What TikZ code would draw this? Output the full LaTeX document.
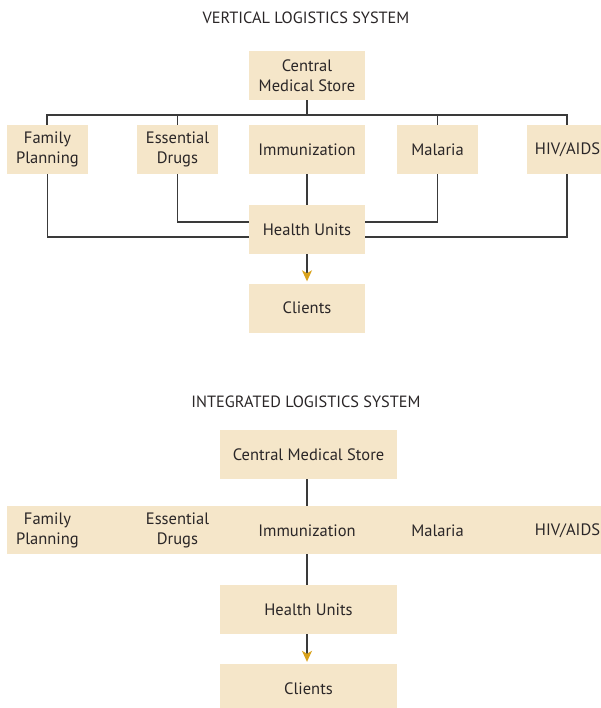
\documentclass[tikz,border=0pt]{standalone}
\usepackage{fontspec}
\setmainfont{PT Sans}
\usetikzlibrary{arrows.meta}
\definecolor{boxfill}{HTML}{F5E6C9}
\definecolor{txt}{HTML}{2A2627}
\definecolor{gold}{HTML}{D9A21B}
\definecolor{wire}{HTML}{3A3A3A}
\begin{document}
\begin{tikzpicture}[x=1pt,y=-1pt,
  box/.style={fill=boxfill,inner sep=0pt,minimum height=49pt,text=txt,align=center,
    font=\fontsize{16.5}{20}\selectfont},
  lbl/.style={inner sep=0pt,text=txt,align=center,font=\fontsize{16.5}{20}\selectfont},
  title/.style={inner sep=0pt,text=txt,font=\fontsize{16.3}{18}\selectfont},
  wireline/.style={draw=wire,line width=1.2pt},
  arr/.style={wireline,-{Stealth[length=11pt,width=10pt,inset=3pt,color=gold]},shorten >=2pt}]
\clip (0,0) rectangle (601,708);
\fill[white] (0,0) rectangle (601,708);
% ---------- vertical system ----------
\node[title] (t1) at (306,18) {VERTICAL LOGISTICS SYSTEM};
\node[box,minimum width=116pt] (cms) at (307,75.5) {Central\\Medical Store};
\node[box,minimum width=81pt] (fp) at (47.5,149.5) {Family\\Planning};
\node[box,minimum width=81pt] (ed) at (177.5,149.5) {Essential\\Drugs};
\node[box,minimum width=116pt] (im) at (307,149.5) {Immunization};
\node[box,minimum width=81pt] (ma) at (437.5,149.5) {Malaria};
\node[box,minimum width=81pt] (hiv) at (567.5,149.5) {HIV/AIDS};
\node[box,minimum width=116pt] (hu) at (307,229.5) {Health Units};
\node[box,minimum width=116pt] (cl) at (307,308) {Clients};
\coordinate (busL) at (47,115);
\coordinate (busR) at (567,115);
\draw[wireline] (fp.north -| busL) -- (busL) -- (busR) -- (hiv.north -| busR);
\draw[wireline] (cms.south) -- (cms.south |- busL);
\draw[wireline] (ed.north) -- (ed.north |- busL);
\draw[wireline] (ma.north) -- (ma.north |- busL);
\draw[wireline] (im.south) -- (hu.north);
\draw[wireline] (ed.south) |- ([yshift=7.5pt]hu.west);
\draw[wireline] (ma.south) |- ([yshift=7.5pt]hu.east);
\draw[wireline] (fp.south) |- ([yshift=-7.5pt]hu.west);
\draw[wireline] (hiv.south -| busR) |- ([yshift=-7.5pt]hu.east);
\draw[arr] (hu.south) -- (cl.north);
% ---------- integrated system ----------
\node[title] (t2) at (306,402) {INTEGRATED LOGISTICS SYSTEM};
\node[box,minimum width=177pt] (cms2) at (308.5,454.5) {Central Medical Store};
\node[box,minimum width=601pt,minimum height=48pt] (band) at (307.5,530) {};
\node[lbl] (fp2) at (47.5,530.5) {Family\\Planning};
\node[lbl] (ed2) at (177.5,530.5) {Essential\\Drugs};
\node[lbl] (im2) at (307,530.5) {Immunization};
\node[lbl] (ma2) at (437.5,530.5) {Malaria};
\node[lbl] (hiv2) at (567.5,530.5) {HIV/AIDS};
\node[box,minimum width=177pt] (hu2) at (308.5,609.5) {Health Units};
\node[box,minimum width=177pt] (cl2) at (308.5,688.5) {Clients};
\draw[wireline] (cms2.south -| im2) -- (band.north -| im2);
\draw[wireline] (band.south -| im2) -- (hu2.north -| im2);
\draw[arr] (hu2.south -| im2) -- (cl2.north -| im2);
\end{tikzpicture}
\end{document}
